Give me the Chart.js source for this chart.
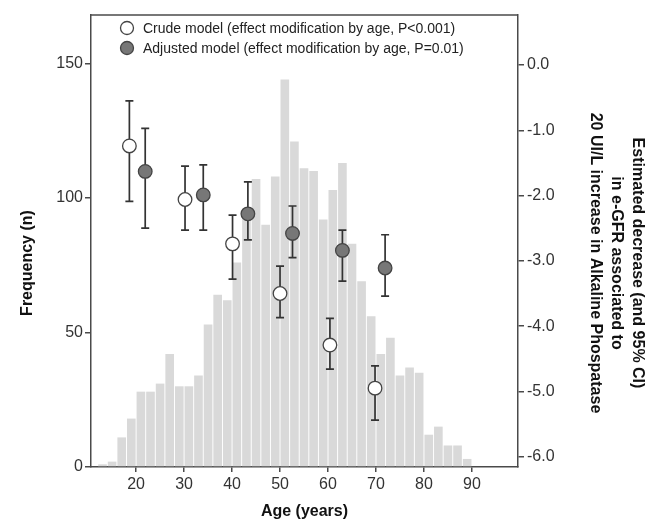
<!DOCTYPE html>
<html>
<head>
<meta charset="utf-8">
<script src="https://cdn.jsdelivr.net/npm/chart.js@4.4.1/dist/chart.umd.min.js"></script>
<style>
html,body{margin:0;padding:0;background:#fff;}
#wrap{width:646px;height:525px;}
</style>
</head>
<body>
<div id="wrap"><canvas id="ageChart" width="646" height="525"></canvas></div>
<script>
// ===== Data =====
// histogram: 2-year age bins (centres) and counts
const binCenters = [13,15,17,19,21,23,25,27,29,31,33,35,37,39,41,43,45,47,49,51,53,55,57,59,61,63,65,67,69,71,73,75,77,79,81,83,85,87,89];
const freq       = [1,2,11,18,28,28,31,42,30,30,34,53,64,62,76,95,107,90,108,144,121,111,110,92,103,113,83,69,56,42,48,34,37,35,12,15,8,8,3];

// crude model: estimate and 95% CI
const crudeAge  = [18.6, 30.2, 40.1, 50.0, 60.4, 69.8];
const crudeEst  = [-1.24, -2.06, -2.74, -3.50, -4.29, -4.95];
const crudeLow  = [-2.09, -2.53, -3.28, -3.87, -4.66, -5.44];
const crudeHigh = [-0.55, -1.55, -2.30, -3.08, -3.88, -4.61];

// adjusted model
const adjAge  = [21.9, 34.0, 43.3, 52.6, 63.0, 71.9];
const adjEst  = [-1.63, -1.99, -2.28, -2.58, -2.84, -3.11];
const adjLow  = [-2.50, -2.53, -2.68, -2.95, -3.31, -3.54];
const adjHigh = [-0.97, -1.53, -1.79, -2.16, -2.53, -2.60];

// ticks
const ageTicks   = [20,30,40,50,60,70,80,90];
const freqTicks  = [0,50,100,150];
const egfrTicks  = [0,-1,-2,-3,-4,-5,-6];

const legendLabels = ["Crude model (effect modification by age, P<0.001)","Adjusted model (effect modification by age, P=0.01)"];
const xTitle = "Age (years)";
const yTitle = "Frequency (n)";
const y2Title = ["Estimated decrease (and 95% CI)","in e-GFR associated to","20 UI/L increase in Alkaline Phospatase"];

// ===== Style =====
const FONT = "'Liberation Sans', Arial, Helvetica, sans-serif";
const INK = "#333333";
const AXIS = "#4a4a4a";

// ===== Helpers =====
function pts(xs, ys){ return xs.map((x,i)=>({x:x,y:ys[i]})); }
function setTicks(list){ return s=>{ s.ticks = list.map(v=>({value:v})); }; }

// ===== Extras: error bars, legend, titles, top frame =====
const extras = {
  id: "extras",
  afterDatasetDraw(chart, args){
    if(args.meta.type!=="bar") return;
    const ctx=chart.ctx, xs=chart.scales.x, ys=chart.scales.y2;
    ctx.save();
    ctx.strokeStyle=INK; ctx.lineWidth=1.7;
    chart.data.datasets.forEach(ds=>{
      if(!ds.errLow) return;
      ds.data.forEach((p,i)=>{
        const px=xs.getPixelForValue(p.x);
        const top=ys.getPixelForValue(ds.errHigh[i]);
        const bot=ys.getPixelForValue(ds.errLow[i]);
        ctx.beginPath();
        ctx.moveTo(px,top); ctx.lineTo(px,bot);
        ctx.moveTo(px-4,top); ctx.lineTo(px+4,top);
        ctx.moveTo(px-4,bot); ctx.lineTo(px+4,bot);
        ctx.stroke();
      });
    });
    ctx.restore();
  },
  afterDraw(chart){
    const ctx=chart.ctx, a=chart.chartArea;
    ctx.save();
    // top frame line
    ctx.strokeStyle=AXIS; ctx.lineWidth=1.5;
    ctx.beginPath(); ctx.moveTo(a.left,a.top); ctx.lineTo(a.right,a.top); ctx.stroke();

    // legend
    ctx.font="14px "+FONT; ctx.textBaseline="middle"; ctx.textAlign="left";
    chart.data.datasets.filter(d=>d.errLow).forEach((ds,i)=>{
      const cy=a.top+13+i*20, cx=a.left+36;
      ctx.beginPath(); ctx.arc(cx,cy,6.5,0,Math.PI*2);
      ctx.fillStyle=ds.backgroundColor; ctx.fill();
      ctx.strokeStyle=ds.borderColor; ctx.lineWidth=1.3; ctx.stroke();
      ctx.fillStyle="#222"; ctx.fillText(ds.label,cx+16,cy+1);
    });

    // axis titles
    ctx.fillStyle="#111"; ctx.font="bold 16px "+FONT; ctx.textAlign="center";
    ctx.fillText(xTitle,(a.left+a.right)/2,512);
    ctx.save(); ctx.translate(28,263); ctx.rotate(-Math.PI/2); ctx.fillText(yTitle,0,0); ctx.restore();
    ctx.save(); ctx.translate(616,263); ctx.rotate(Math.PI/2);
    y2Title.forEach((t,i)=>ctx.fillText(t,0,(i-1)*21));
    ctx.restore();
    ctx.restore();
  }
};

// ===== Chart =====
const tickFont={family:FONT,size:16};
new Chart(document.getElementById("ageChart").getContext("2d"),{
  type:"bar",
  data:{datasets:[
    {type:"scatter",label:legendLabels[0],data:pts(crudeAge,crudeEst),errLow:crudeLow,errHigh:crudeHigh,
      yAxisID:"y2",backgroundColor:"#ffffff",borderColor:"#444",borderWidth:1.3,pointRadius:6.8,order:1},
    {type:"scatter",label:legendLabels[1],data:pts(adjAge,adjEst),errLow:adjLow,errHigh:adjHigh,
      yAxisID:"y2",backgroundColor:"#777777",borderColor:"#444",borderWidth:1.3,pointRadius:6.8,order:2},
    {type:"bar",label:"Frequency",data:pts(binCenters,freq),yAxisID:"y",backgroundColor:"#d9d9d9",
      borderWidth:0,barPercentage:0.9,categoryPercentage:1,order:3}
  ]},
  options:{
    responsive:false,animation:false,
    layout:{padding:{top:15,left:0,right:0,bottom:0}},
    plugins:{legend:{display:false},tooltip:{enabled:false}},
    scales:{
      x:{type:"linear",min:10.6,max:99.6,offset:false,afterBuildTicks:setTicks(ageTicks),
        afterFit:s=>{s.height=58;},
        grid:{display:true,drawOnChartArea:false,offset:false,tickLength:5,color:AXIS,lineWidth:1.5},
        border:{display:true,color:AXIS,width:1.5},
        ticks:{font:tickFont,color:"#333",padding:3,autoSkip:false,maxRotation:0}},
      y:{type:"linear",position:"left",min:0,max:168,afterBuildTicks:setTicks(freqTicks),
        afterFit:s=>{s.width=91;},
        grid:{display:true,drawOnChartArea:false,tickLength:6,color:AXIS,lineWidth:1.5},
        border:{display:true,color:AXIS,width:1.5},
        ticks:{font:tickFont,color:"#333",padding:2}},
      y2:{type:"linear",position:"right",min:-6.158,max:0.766,afterBuildTicks:setTicks(egfrTicks),
        afterFit:s=>{s.width=128;},
        grid:{display:true,drawOnChartArea:false,tickLength:6,color:AXIS,lineWidth:1.5},
        border:{display:true,color:AXIS,width:1.5},
        ticks:{font:tickFont,color:"#333",padding:3,callback:v=>v.toFixed(1)}}
    }
  },
  plugins:[extras]
});
</script>
</body>
</html>
